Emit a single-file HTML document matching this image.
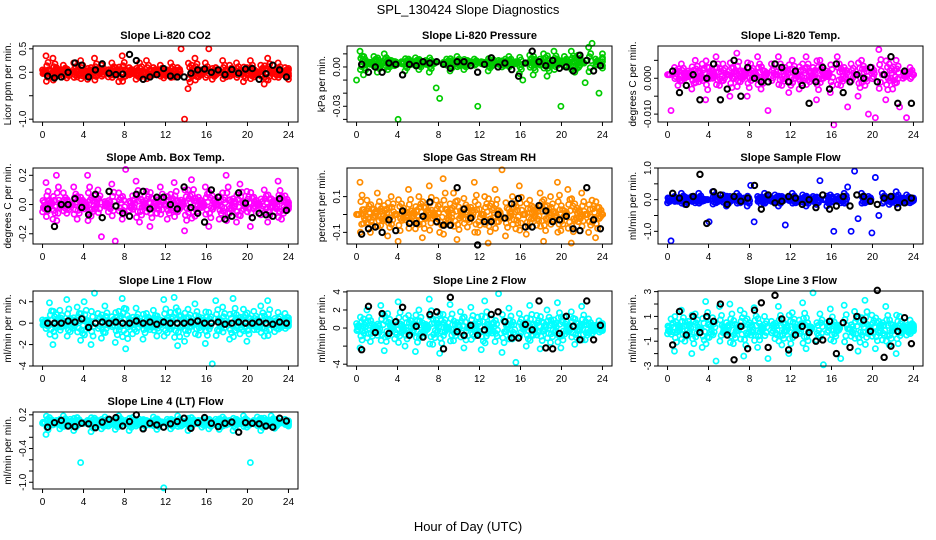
<!DOCTYPE html>
<html><head><meta charset="utf-8"><style>
body{margin:0;background:#fff}
svg{display:block;font-family:"Liberation Sans",sans-serif}
</style></head><body>
<svg id="c" width="936" height="540" xmlns="http://www.w3.org/2000/svg">
<text x="468" y="14" text-anchor="middle" font-size="13">SPL_130424  Slope Diagnostics</text>
<text x="468" y="531" text-anchor="middle" font-size="13">Hour of Day (UTC)</text>
</svg>
<script>
const xTicks=[0,4,8,12,16,20,24];
const co2Vals=[0.05,0.35,-0.1,0.3,0.1,-0.05,0.15,-0.12,0.0,0.2,-0.1,0.25,0.05,-0.15,0.1,0.3,-0.05,0.15,0.0,-0.1,0.2,0.1,-0.2,0.35,-0.08,0.1,0.05,-0.15,0.2,0.0,0.25,-0.1,0.1,-0.05,0.15,-0.12,0.05,0.2,-0.1,0.1,0.5,-1.0,-0.35,0.15,0.3,-0.1,0.05,0.2,0.5,-0.15,0.1,0.0,0.25,-0.1,0.15,-0.05,0.2,0.05,-0.2,0.1,0.25,-0.1,0.0,0.15,-0.25,0.3,0.05,-0.1,0.2,-0.05,0.1,-0.15];
const co2Blk=[-0.08,-0.12,-0.1,0.0,0.2,0.15,-0.1,0.05,0.18,-0.02,-0.05,-0.04,0.38,0.25,-0.15,-0.1,-0.05,0.08,-0.08,-0.1,-0.1,-0.02,0.05,0.07,0.0,0.05,-0.05,0.06,-0.02,0.07,0.08,-0.15,-0.03,0.15,0.05,-0.1];
const presVals=[-0.01,0.012,-0.006,0.004,0.002,0.008,-0.004,0.003,0.01,-0.002,0.005,0.001,-0.04,0.004,-0.003,0.006,0.002,0.007,-0.002,0.003,0.005,-0.004,0.004,-0.016,-0.024,0.002,0.006,-0.003,0.004,0.008,0.001,-0.002,0.005,0.003,0.006,-0.03,0.004,0.002,-0.003,0.007,0.003,0.005,0.0,0.006,0.008,0.002,0.004,-0.005,-0.01,0.003,0.009,-0.006,0.004,0.006,0.01,-0.007,0.003,0.012,0.006,-0.03,0.008,0.004,0.012,-0.004,0.009,0.003,-0.012,0.015,0.018,0.006,-0.02,0.01];
const presBlk=[0.002,-0.004,0.0,-0.004,0.003,0.002,-0.006,0.002,0.001,0.004,0.003,0.004,0.002,-0.001,0.004,0.004,0.001,-0.004,0.002,0.007,0.0,0.003,-0.002,-0.007,0.003,0.012,0.004,0.001,0.005,-0.001,0.0,-0.003,0.009,0.005,-0.003,0.001];
const tempVals=[0.001,-0.009,0.003,-0.002,0.004,0.0,0.002,-0.003,0.005,-0.001,0.004,-0.006,0.003,0.0,0.006,-0.002,0.004,0.001,-0.005,0.003,0.007,-0.001,0.002,-0.005,0.004,0.0,0.006,-0.003,0.002,-0.009,0.004,0.001,0.006,-0.002,0.003,-0.004,0.005,0.0,-0.003,0.004,0.006,-0.001,0.003,-0.006,0.005,0.0,0.002,-0.004,-0.013,0.006,-0.002,0.003,-0.008,0.004,0.001,-0.005,0.005,-0.002,-0.010,0.003,-0.011,0.008,0.001,-0.006,0.004,-0.003,0.005,-0.008,0.0,-0.011,0.003,0.001];
const tempBlk=[0.002,-0.004,-0.002,0.001,-0.006,0.0,0.004,-0.006,-0.003,0.005,-0.005,0.003,0.0,-0.001,-0.001,0.004,0.003,-0.001,0.002,-0.002,-0.007,-0.001,0.003,-0.003,0.004,-0.004,-0.001,0.001,0.0,0.003,-0.001,0.001,0.006,-0.007,0.002,-0.007];
const ambVals=[-0.05,0.15,0.03,-0.1,0.2,-0.02,0.08,-0.06,0.0,0.12,-0.1,0.05,-0.03,0.2,-0.08,0.06,0.1,-0.22,0.02,-0.05,0.14,-0.25,0.08,-0.1,0.24,-0.04,0.06,0.16,-0.12,0.02,0.09,-0.15,0.04,-0.06,0.12,0.0,-0.1,0.07,0.15,-0.05,0.03,-0.18,0.1,0.17,-0.08,0.05,-0.02,0.12,-0.15,0.06,0.0,-0.1,0.08,0.2,-0.06,0.04,-0.12,0.14,-0.03,0.09,-0.15,0.05,0.0,-0.07,0.1,-0.12,0.04,-0.05,0.16,-0.1,0.06,-0.03];
const ambBlk=[-0.03,-0.15,0.0,0.0,0.04,-0.02,-0.07,0.07,-0.09,0.09,-0.01,-0.06,-0.08,0.07,0.09,-0.03,0.05,0.05,0.0,-0.03,0.12,-0.02,-0.06,-0.12,0.1,0.05,-0.1,-0.08,0.08,0.01,-0.09,-0.06,-0.07,-0.08,0.04,-0.04];
const rhVals=[0.0,0.18,-0.05,0.08,-0.1,0.03,0.12,-0.06,0.05,-0.12,0.1,0.0,-0.15,0.06,-0.03,0.14,0.02,-0.08,0.1,-0.13,0.04,0.16,-0.02,0.08,-0.1,0.2,-0.05,0.06,0.12,-0.14,0.02,0.09,-0.07,0.04,0.18,-0.1,0.0,0.1,-0.16,0.06,0.14,-0.04,0.25,-0.12,0.03,0.1,-0.08,0.16,0.0,-0.11,0.08,0.04,-0.06,0.12,-0.15,0.05,0.1,-0.03,0.18,-0.09,0.02,0.14,-0.16,0.06,-0.04,0.12,0.0,-0.1,0.08,-0.13,0.04,0.0];
const rhBlk=[-0.11,-0.08,-0.07,-0.1,-0.03,-0.09,0.02,-0.05,-0.05,-0.01,0.07,-0.04,-0.06,-0.06,0.15,0.03,-0.02,-0.17,-0.04,-0.04,0.0,-0.02,0.06,0.09,-0.07,-0.07,0.05,0.02,-0.04,-0.03,-0.01,-0.08,-0.09,0.15,-0.03,-0.08];
const sfVals=[-0.1,-1.3,0.1,-0.05,0.2,-0.15,0.05,0.1,-0.1,0.2,-0.05,0.0,-0.7,0.25,-0.1,0.05,0.15,-0.2,0.1,0.0,0.2,-0.1,0.05,-0.2,0.45,-0.7,0.1,-0.15,0.2,0.0,-0.05,0.15,-0.2,0.1,-0.8,0.05,0.2,-0.1,0.0,0.15,-0.2,0.05,0.1,-0.15,0.6,0.0,-0.2,0.15,-1.0,0.1,-0.1,0.2,0.4,-1.0,0.9,-0.6,0.2,-0.1,0.1,-1.05,0.7,-0.5,0.2,0.0,-0.15,0.1,0.25,-0.1,0.05,0.15,-0.1,0.05];
const sfBlk=[0.2,0.05,-0.15,0.1,0.8,-0.75,0.25,0.15,-0.15,0.1,-0.05,0.05,0.45,-0.3,0.15,-0.1,-0.05,0.1,0.05,-0.15,0.0,-0.25,0.15,-0.3,-0.2,0.1,-0.2,0.15,0.1,-0.05,-0.15,0.05,0.1,-0.25,-0.1,0.05];
const l1Vals=[0.3,-0.5,1.9,-2.0,0.8,1.2,-0.3,2.2,-0.8,0.5,1.5,-1.6,2.0,-0.4,-2.0,2.8,0.9,-1.4,1.6,-0.2,0.6,-1.8,1.1,2.3,-2.4,0.4,-1.0,1.4,0.2,-1.5,0.9,-0.6,1.2,-1.2,0.3,2.2,-0.9,1.0,2.4,-2.1,0.7,-1.7,1.3,-0.3,1.8,-1.1,0.5,-1.9,1.0,-3.8,2.1,-0.7,1.5,0.0,-1.5,2.3,0.8,-1.0,1.3,-1.7,0.4,1.1,-0.6,1.6,-1.2,2.1,0.2,-0.8,1.0,-0.4,0.9,0.5];
const l1Blk=[0.0,0.0,0.0,0.2,0.1,0.4,-0.4,0.0,0.1,0.0,0.1,0.0,0.0,0.2,0.0,0.1,-0.1,0.1,0.0,0.0,0.0,0.1,0.2,0.0,0.0,0.1,-0.1,0.0,0.1,0.0,0.0,0.1,0.0,-0.1,0.1,0.0];
const l2Vals=[0.5,-2.2,1.0,2.0,-1.5,0.3,-0.8,2.5,-2.5,1.6,0.2,-1.2,2.9,-0.5,-2.0,1.4,0.8,-2.6,2.0,-1.0,0.4,3.2,-1.8,0.9,-2.8,1.5,-0.2,2.6,-1.4,0.6,1.8,-2.2,0.0,2.3,-0.9,1.2,-2.4,3.0,-0.6,1.0,-1.5,3.8,-2.7,0.7,2.2,-1.2,-3.8,1.6,0.3,-2.0,2.5,-0.8,1.4,-2.3,0.6,2.0,-1.6,0.9,2.8,-2.2,1.2,-0.4,1.8,-1.8,0.5,2.4,-1.3,1.0,-0.6,0.3,0.8,0.5];
const l2Blk=[-2.4,2.4,-0.5,1.6,-0.6,0.7,2.3,-0.8,0.2,-1.0,1.5,1.8,-2.3,3.4,-0.4,-0.8,0.3,-0.8,-0.2,1.5,1.8,0.7,-1.1,-1.1,0.4,-0.2,3.0,-2.2,-2.3,-0.6,1.3,0.2,-1.3,3.0,-1.3,0.3];
const l3Vals=[-0.4,0.8,-1.8,0.3,1.5,-1.0,0.6,-2.0,1.2,0.0,-1.5,2.2,-0.7,0.9,-2.6,1.8,-0.3,0.5,2.0,-1.2,0.3,1.5,-2.2,0.8,-0.5,1.7,-1.5,0.2,1.0,-2.4,0.6,-0.8,1.8,-1.3,0.4,-2.0,1.3,-0.2,0.7,2.1,-1.6,0.2,2.9,-0.9,1.2,-2.9,0.5,1.6,-1.0,0.3,-2.4,1.9,0.0,-0.6,1.4,-1.8,0.9,2.3,-0.4,1.1,-1.6,0.6,-0.9,1.8,-1.3,0.3,-2.0,1.0,0.2,-0.5,0.7,0.3];
const l3Blk=[-1.3,1.4,-0.5,1.0,-0.3,1.0,0.6,2.0,-0.5,-2.5,0.2,-1.6,1.5,2.1,-1.5,2.7,0.8,-1.7,-0.5,0.2,-0.3,-1.0,-0.9,0.6,-2.0,0.5,-1.5,1.0,0.7,-0.2,3.1,-2.3,-1.4,-0.2,0.9,-1.2];
const l4Vals=[0.05,-0.15,0.15,0.02,0.1,-0.05,0.18,0.0,0.12,-0.08,0.15,-0.65,0.05,0.1,-0.1,0.14,0.02,-0.05,0.16,0.0,0.08,-0.06,0.18,0.05,0.1,-0.08,0.15,0.0,0.12,-0.04,0.1,0.02,0.16,-0.06,0.08,-1.1,0.12,-0.05,0.1,0.18,0.0,0.08,-0.08,0.15,0.04,0.1,-0.02,0.14,-0.05,0.08,0.12,-0.06,0.16,0.02,0.1,-0.08,0.12,0.04,0.18,-0.02,-0.65,0.1,0.16,-0.08,0.14,0.02,0.18,-0.04,0.1,0.06,0.12,0.0];
const l4Blk=[-0.02,0.06,0.1,0.0,-0.01,0.05,0.04,-0.03,0.07,0.12,0.15,0.0,0.08,0.2,-0.05,0.05,0.02,-0.02,0.04,0.08,0.14,-0.04,0.06,0.15,0.05,-0.01,0.05,0.07,-0.11,0.06,0.05,0.04,0.0,-0.02,0.14,0.09];

const panels=[
 {t:"Slope Li-820 CO2",yl:"Licor ppm per min.",v:co2Vals,b:co2Blk,c:"#ff0000",ctr:0,thr:0.36,L:33,R:298,T:46,B:122,y0:-1.06,y1:0.56,ticks:[0.5,0,-0.5,-1.0],lab:["0.5","0.0","","-1.0"]},
 {t:"Slope Li-820 Pressure",yl:"kPa per min.",v:presVals,b:presBlk,c:"#00cc00",ctr:0.003,thr:0.013,L:347,R:612,T:46,B:122,y0:-0.042,y1:0.016,ticks:[0.01,0,-0.01,-0.02,-0.03,-0.04],lab:["","0.00","","","-0.03",""]},
 {t:"Slope Li-820 Temp.",yl:"degrees C per min.",v:tempVals,b:tempBlk,c:"#ff00ff",ctr:0.001,thr:0.008,L:658,R:923,T:46,B:122,y0:-0.0122,y1:0.009,ticks:[0.005,0,-0.005,-0.01],lab:["","0.000","","-0.010"]},
 {t:"Slope Amb. Box Temp.",yl:"degrees C per min.",v:ambVals,b:ambBlk,c:"#ff00ff",ctr:0,thr:0.21,L:33,R:298,T:168,B:244,y0:-0.27,y1:0.25,ticks:[0.2,0.1,0,-0.1,-0.2],lab:["0.2","","0.0","","-0.2"]},
 {t:"Slope Gas Stream RH",yl:"percent per min.",v:rhVals,b:rhBlk,c:"#ff8c00",ctr:0,thr:0.2,L:347,R:612,T:168,B:244,y0:-0.165,y1:0.26,ticks:[0.1,0,-0.1],lab:["0.1","","-0.1"]},
 {t:"Slope Sample Flow",yl:"ml/min per min.",v:sfVals,b:sfBlk,c:"#0000ff",ctr:0,thr:0.3,L:658,R:923,T:168,B:244,y0:-1.4,y1:1.0,ticks:[1.0,0.5,0,-0.5,-1.0],lab:["1.0","","0.0","","-1.0"]},
 {t:"Slope Line 1 Flow",yl:"ml/min per min.",v:l1Vals,b:l1Blk,c:"#00ffff",ctr:0,thr:2.5,L:33,R:298,T:291,B:366,y0:-4.0,y1:3.0,ticks:[2,0,-2,-4],lab:["2","0","-2","-4"]},
 {t:"Slope Line 2 Flow",yl:"ml/min per min.",v:l2Vals,b:l2Blk,c:"#00ffff",ctr:0,thr:3.3,L:347,R:612,T:291,B:366,y0:-4.2,y1:4.1,ticks:[4,2,0,-2,-4],lab:["4","2","0","","-4"]},
 {t:"Slope Line 3 Flow",yl:"ml/min per min.",v:l3Vals,b:l3Blk,c:"#00ffff",ctr:0,thr:2.3,L:658,R:923,T:291,B:366,y0:-3.0,y1:3.05,ticks:[3,2,1,0,-1,-2,-3],lab:["3","","1","","-1","","-3"]},
 {t:"Slope Line 4 (LT) Flow",yl:"ml/min per min.",v:l4Vals,b:l4Blk,c:"#00ffff",ctr:0.06,thr:0.22,L:33,R:298,T:412,B:489,y0:-1.12,y1:0.25,ticks:[0.2,0,-0.2,-0.4,-0.6,-0.8,-1.0],lab:["0.2","","","-0.4","","","-1.0"]}
];
const svg=document.getElementById('c');
const NS="http://www.w3.org/2000/svg";
function mk(tag,attrs,parent){const e=document.createElementNS(NS,tag);for(const k in attrs)e.setAttribute(k,attrs[k]);(parent||svg).appendChild(e);return e;}
const copies=[[0,1],[0.08,0.4],[0.16,-0.3],[0.24,0.15],[0.04,-0.55],[0.2,0.6]];
panels.forEach((p,pi)=>{
 const g=mk('g',{});
 
 
 const x0=p.L+(p.R-p.L)*0.036, x1=p.R-(p.R-p.L)*0.036;
 const sx=h=>x0+(x1-x0)*h/24;
 const sy=v=>p.B-(v-p.y0)/(p.y1-p.y0)*(p.B-p.T);
 const tt=mk('text',{x:(p.L+p.R)/2,y:p.T-7,'text-anchor':'middle','font-size':'11','font-weight':'bold'},g);
 tt.textContent=p.t;
 
 
 const yl=mk('text',{x:0,y:0,'text-anchor':'middle','font-size':'10',transform:`translate(${p.L-22},${(p.T+p.B)/2}) rotate(-90)`},g);
 yl.textContent=p.yl;
 
 
 const n=p.v.length;
 copies.forEach(([dx,f],ci)=>{
  p.v.forEach((v,i)=>{
   if(ci>0 && Math.abs(v-p.ctr)>p.thr) return;
   const val=ci===0?v:p.ctr+(v-p.ctr)*f;
   const c=mk('circle',{cx:sx(Math.min(24,i*24/(n-1)+dx)),cy:sy(val),r:2.6,fill:'none',stroke:p.c,'stroke-width':1.7},g);
   
   
  });
 });
 const m=p.b.length;
 p.b.forEach((v,i)=>{
  const c=mk('circle',{cx:sx(0.5+i*23.3/(m-1)),cy:sy(v),r:2.7,fill:'none',stroke:'#000','stroke-width':2},g);
  
  
 });
 const box=mk('rect',{x:p.L,y:p.T,width:p.R-p.L,height:p.B-p.T,fill:'none',stroke:'#000','stroke-width':1},g);
 
 
 xTicks.forEach(h=>{
  mk('line',{x1:sx(h),x2:sx(h),y1:p.B,y2:p.B+4,stroke:'#000'},g);
  const t=mk('text',{x:sx(h),y:p.B+16,'text-anchor':'middle','font-size':'10'},g);
  t.textContent=h;
  
  
 });
 p.ticks.forEach((v,i)=>{
  mk('line',{x1:p.L-4,x2:p.L,y1:sy(v),y2:sy(v),stroke:'#000'},g);
  if(p.lab[i]){
   const t=mk('text',{x:0,y:0,'text-anchor':'middle','font-size':'10',transform:`translate(${p.L-7},${sy(v)}) rotate(-90)`},g);
   t.textContent=p.lab[i];
   
   
  }
 });
});
</script>
</body></html>
